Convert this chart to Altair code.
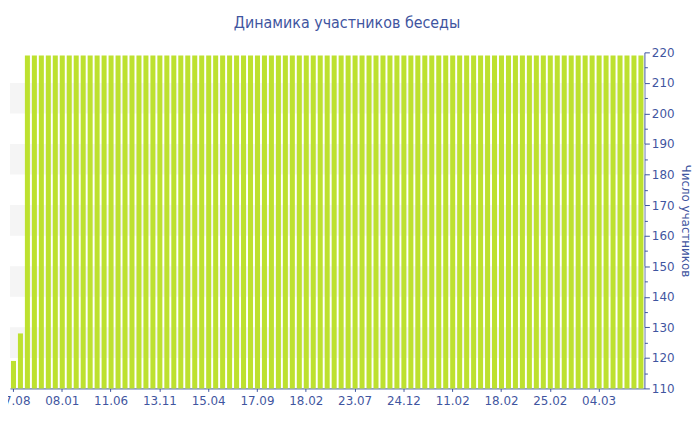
import altair as alt
import pandas as pd
import json

tick_labels = ["07.08", "08.01", "11.06", "13.11", "15.04", "17.09", "18.02",
               "23.07", "24.12", "11.02", "18.02", "25.02", "04.03"]

members = [119, 128,
           219, 219, 219, 219, 219, 219, 219, 219, 219, 219,
           219, 219, 219, 219, 219, 219, 219, 219, 219, 219,
           219, 219, 219, 219, 219, 219, 219, 219, 219, 219,
           219, 219, 219, 219, 219, 219, 219, 219, 219, 219,
           219, 219, 219, 219, 219, 219, 219, 219, 219, 219,
           219, 219, 219, 219, 219, 219, 219, 219, 219, 219,
           219, 219, 219, 219, 219, 219, 219, 219, 219, 219,
           219, 219, 219, 219, 219, 219, 219, 219, 219, 219,
           219, 219, 219, 219, 219, 219, 219, 219, 219]

band_low = [120, 140, 160, 180, 200]
band_high = [130, 150, 170, 190, 210]

df = pd.DataFrame({"i": list(range(len(members))), "members": members})
bands = pd.DataFrame({"members": band_low, "hi": band_high})

W, H = 640, 339
BLUE = "#3f55a0"
FONT = "Verdana, DejaVu Sans, sans-serif"
YTITLE = "Число участников"

label_expr = json.dumps(tick_labels) + "[datum.value / 7]"
yscale = alt.Scale(domain=[110, 220], zero=False, nice=False)
yaxis = alt.Axis(orient="right", values=list(range(110, 221, 5)),
                 labelExpr="datum.value % 10 == 0 ? datum.value : ''",
                 tickSize={"condition": {"test": "datum.value % 10 == 0", "value": 5},
                           "value": 3},
                 grid=False, labelFont=FONT, labelFontSize=12,
                 labelColor=BLUE, domainColor=BLUE, tickColor=BLUE,
                 labelPadding=2, titleFont=FONT, titleFontSize=12,
                 titleFontWeight="normal", titleColor=BLUE, titlePadding=5)

bands_layer = alt.Chart(bands).mark_rect(color="#f5f5f5").encode(
    x=alt.value(0), x2=alt.value(W),
    y=alt.Y("members:Q", title=YTITLE, axis=yaxis, scale=yscale),
    y2="hi:Q",
)

bars = alt.Chart(df).mark_bar(color="#bde12f").encode(
    x=alt.X("i:O", title=None,
            scale=alt.Scale(paddingInner=0.28, paddingOuter=0.14),
            axis=alt.Axis(values=list(range(0, 91, 7)), labelExpr=label_expr,
                          labelAngle=0, labelFont=FONT, labelFontSize=12,
                          labelColor=BLUE, domainColor=BLUE, tickColor=BLUE,
                          tickSize=3, labelPadding=4)),
    y=alt.Y("members:Q", title=YTITLE, scale=yscale, axis=yaxis),
    y2=alt.datum(110),
)

chart = alt.layer(bands_layer, bars).properties(
    width=W, height=H,
    title=alt.TitleParams("Динамика участников беседы", anchor="middle", dx=20,
                          offset=16,
                          font="DejaVu Sans Condensed, Liberation Sans, sans-serif",
                          fontSize=16, fontWeight="normal", color=BLUE),
    autosize=alt.AutoSizeParams(type="none"),
    padding={"left": 2, "top": 43, "right": 48, "bottom": 20},
).configure_view(stroke=None)

chart.save("out.html", embed_options={"renderer": "svg", "actions": False})
